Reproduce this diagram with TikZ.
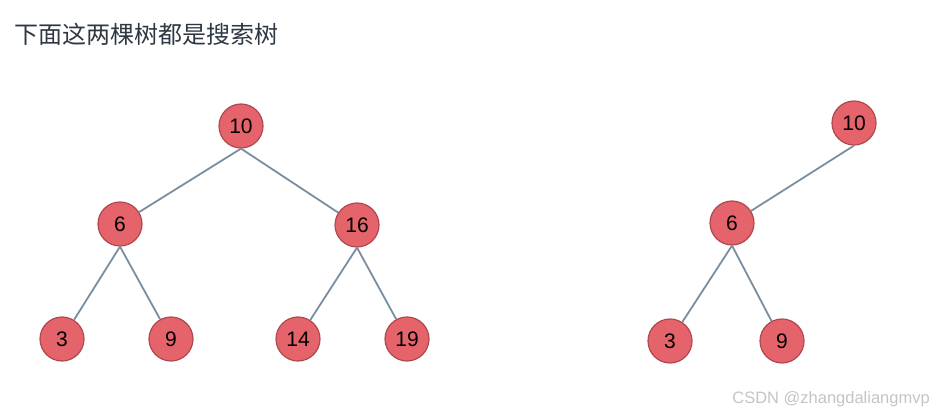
\documentclass[tikz,border=0pt]{standalone}
\usepackage{fontspec}
\setmainfont{Liberation Sans}
\newfontfamily\cjk{Noto Sans CJK SC}
\definecolor{nodefill}{HTML}{E5636A}
\definecolor{nodeline}{HTML}{B0494F}
\definecolor{edgecol}{HTML}{7A8EA0}
\definecolor{titlecol}{HTML}{2E3842}
\definecolor{markcol}{HTML}{C4C4C4}
\begin{document}
\begin{tikzpicture}[x=1pt,y=-1pt,
  tnode/.style={circle,fill=nodefill,draw=nodeline,line width=1.2pt,minimum size=44pt,inner sep=0pt,font=\fontsize{21}{25}\selectfont,text=black},
  tedge/.style={draw=edgecol,line width=1.8pt}]
\useasboundingbox (0,0) rectangle (937,414);
\node[anchor=west,text=titlecol,font=\cjk\fontsize{24}{28}\selectfont,inner sep=0pt] (title) at (14,34) {下面这两棵树都是搜索树};
% left tree
\node[tnode] (a10) at (241,126) {10};
\node[tnode] (a6) at (120,224) {6};
\node[tnode] (a16) at (357,225) {16};
\node[tnode] (a3) at (62,339) {3};
\node[tnode] (a9) at (171,339) {9};
\node[tnode] (a14) at (298,339) {14};
\node[tnode] (a19) at (407,339) {19};
% right tree
\node[tnode] (b10) at (854,123) {10};
\node[tnode] (b6) at (732,223) {6};
\node[tnode] (b3) at (670,341) {3};
\node[tnode] (b9) at (782,341) {9};
\path[tedge] (a10.south) -- (a6);
\path[tedge] (a10.south) -- (a16);
\path[tedge] (a6.south) -- (a3);
\path[tedge] (a6.south) -- (a9);
\path[tedge] (a16.south) -- (a14);
\path[tedge] (a16.south) -- (a19);
\path[tedge] (b10.south) -- (b6);
\path[tedge] (b6.south) -- (b3);
\path[tedge] (b6.south) -- (b9);
\node[anchor=east,text=markcol,font=\fontsize{16.5}{19}\selectfont,inner sep=0pt] (mark) at (930,399) {CSDN @zhangdaliangmvp};
\end{tikzpicture}
\end{document}
